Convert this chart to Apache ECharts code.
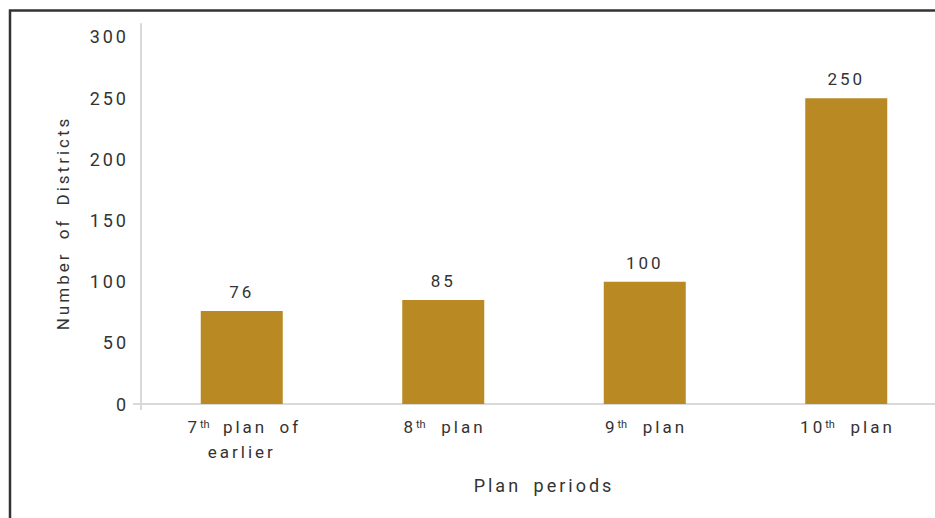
<!DOCTYPE html>
<html>
<head>
<meta charset="utf-8">
<script src="https://cdn.jsdelivr.net/npm/echarts@6/dist/echarts.min.js"></script>
<style>
  html, body { margin: 0; padding: 0; background: #fff; }
  #chart { width: 935px; height: 518px; letter-spacing: 3px; word-spacing: 5px; }
  /* ordinal suffixes stay tight */
  #chart text[style*="11px"] { letter-spacing: 0; }
</style>
</head>
<body>
<div id="chart"></div>
<script>
// Districts covered in each plan period
const categories = ['7th plan of\nearlier', '8th plan', '9th plan', '10th plan'];
const districts = [76, 85, 100, 250];
const yTicks = { min: 0, max: 310.6, interval: 50 };

const barColor = '#B98923';
const textColor = '#333333';
const axisColor = '#d9d9d9';
const fontFamily = 'Roboto, "Liberation Sans", sans-serif';
const LETTER_SPACING = '3px';
const WORD_SPACING = '5px';

// Text widths must include the same spacing the page applies to the text
const measureCtx = document.createElement('canvas').getContext('2d');
echarts.setPlatformAPI({
  measureText(text, font) {
    font = font || '12px sans-serif';
    measureCtx.font = font;
    measureCtx.letterSpacing = /\b11px/.test(font) ? '0px' : LETTER_SPACING;
    measureCtx.wordSpacing = WORD_SPACING;
    return measureCtx.measureText(text);
  }
});

// Turn "7th" into 7 with a raised "th"
function ordinal(label) {
  return label.replace(/^(\d+)th /, '$1{sup|th} ');
}

const chart = echarts.init(document.getElementById('chart'), null, { renderer: 'svg' });

chart.setOption({
  animation: false,
  backgroundColor: '#ffffff',
  textStyle: { fontFamily: fontFamily, color: textColor },
  grid: { left: 141, width: 806, top: 24, bottom: 114, outerBoundsMode: 'none', containLabel: false },
  graphic: [{
    type: 'rect',
    shape: { x: 10, y: 10.5, width: 1200, height: 1200 },
    style: { fill: 'none', stroke: '#333333', lineWidth: 2.5 },
    silent: true
  }],
  xAxis: {
    type: 'category',
    data: categories,
    name: 'Plan periods',
    nameLocation: 'middle',
    nameGap: 71,
    nameTextStyle: { fontSize: 18, color: textColor, fontFamily: fontFamily },
    axisLine: { show: true, lineStyle: { color: axisColor, width: 2 } },
    axisTick: { show: true, interval: (i) => i === 0, length: 6, lineStyle: { color: axisColor, width: 2 } },
    axisLabel: {
      interval: 0,
      margin: 10,
      color: textColor,
      fontSize: 17,
      lineHeight: 25,
      fontFamily: fontFamily,
      formatter: ordinal,
      rich: {
        sup: { fontSize: 11, verticalAlign: 'top', lineHeight: 25, padding: [5, 6, 0, 0], color: textColor, fontFamily: fontFamily }
      }
    }
  },
  yAxis: {
    type: 'value',
    min: yTicks.min,
    max: yTicks.max,
    interval: yTicks.interval,
    name: 'Number of Districts',
    nameLocation: 'middle',
    nameGap: 68,
    nameTextStyle: { fontSize: 17, color: textColor, fontFamily: fontFamily, padding: [0, 18, 0, 0] },
    axisLine: { show: true, lineStyle: { color: axisColor, width: 2 } },
    axisTick: { show: true, customValues: [0], length: 8, lineStyle: { color: axisColor, width: 2 } },
    splitLine: { show: false },
    axisLabel: { margin: 12, color: textColor, fontSize: 18, fontFamily: fontFamily, showMaxLabel: false }
  },
  series: [{
    type: 'bar',
    data: districts,
    barWidth: 82,
    itemStyle: { color: barColor },
    label: {
      show: true,
      position: 'top',
      distance: 9,
      color: textColor,
      fontSize: 17,
      fontFamily: fontFamily
    }
  }]
});
</script>
</body>
</html>
